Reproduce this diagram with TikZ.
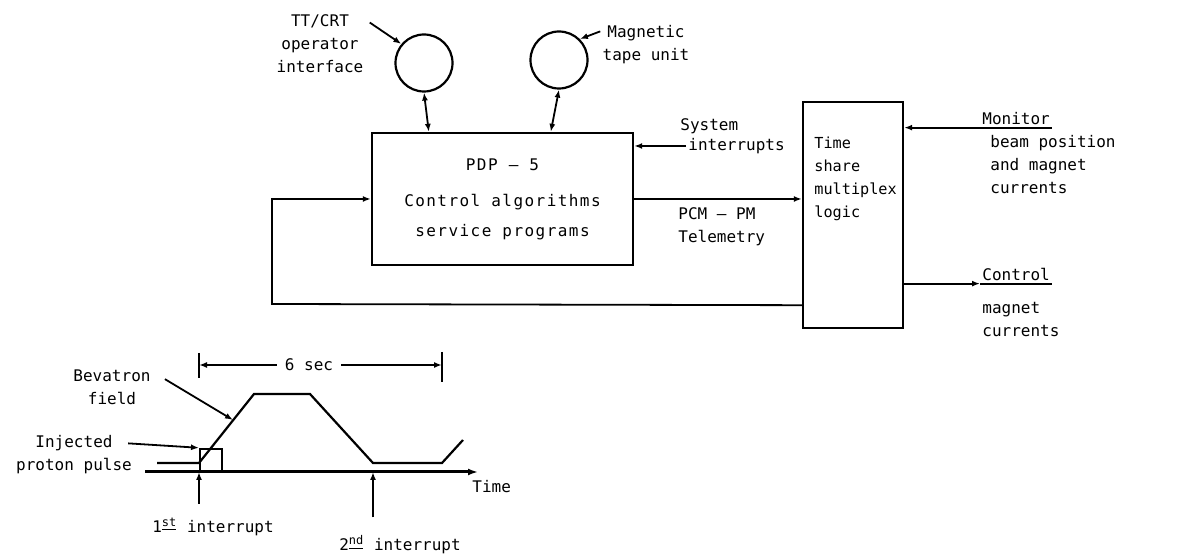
\documentclass[tikz,border=0pt]{standalone}
\usepackage{fontspec}
\setmainfont{DejaVu Sans Mono}
\newfontfamily\pdpfont[LetterSpace=9]{DejaVu Sans Mono}
\usetikzlibrary{arrows.meta,positioning}

\begin{document}
\begin{tikzpicture}[
  x=0.5pt, y=-0.5pt,
  lbl/.style={inner sep=1pt, font=\fontsize{8}{11.5}\selectfont},
  box/.style={draw, line width=1.2pt, inner sep=0pt},
  disk/.style={draw, circle, line width=1.1pt, minimum size=28.5pt, inner sep=0pt},
  arr/.style={-{Latex[length=4pt,width=3pt]}, line width=0.9pt},
  dbl/.style={{Latex[length=4pt,width=3pt]}-{Latex[length=4pt,width=3pt]}, line width=0.9pt},
  field/.style={line width=1.1pt}
]
\useasboundingbox (0,0) rectangle (1190,560);

\node[box, minimum width=130.5pt, minimum height=66pt, align=center,
      font=\pdpfont\fontsize{8}{15}\selectfont] (pdp) at (502.5,199)
  {PDP – 5\\[3pt]Control algorithms\\service programs};
\node[box, minimum width=50pt, minimum height=113pt] (tsm) at (853,215) {};
\node[lbl, align=left, anchor=north west, inner sep=0pt, font=\fontsize{7.6}{11.5}\selectfont]
  (tsmtxt) at (814,137) {Time\\share\\multiplex\\logic};

\node[disk] (ttcrt) at (424,63) {};
\node[disk] (tape) at (559,60) {};
\node[lbl, align=center] (ttlbl) at (320,44) {TT/CRT\\operator\\interface};
\node[lbl, align=center] (tapelbl) at (646,45) {Magnetic\\tape unit};
\draw[arr] ([shift={(2pt,-5pt)}]ttlbl.north east) -- (ttcrt.140);
\draw[arr] ([yshift=-4pt]tapelbl.north west) -- (tape.45);
\draw[dbl] (ttcrt.south) -- ([xshift=29pt]pdp.north west);
\draw[dbl] (tape.south) -- ([xshift=90pt]pdp.north west);

\node[lbl, anchor=west] (sysint) at (686,146) {interrupts};
\node[lbl, anchor=south west] (sys) at ([xshift=-4pt]sysint.north west) {System};
\draw[arr] (sysint.west) -- (sysint.west -| pdp.east);

\draw[arr] (pdp.east) -- (pdp.east -| tsm.west);
\node[lbl, align=left, anchor=north west] (pcm) at (676,205) {PCM – PM\\Telemetry};

\node[lbl, anchor=base west] (mon) at (980,125) {Monitor};
\draw[line width=0.9pt] (mon.south west) -- (mon.south east);
\draw[arr] (mon.south west) -- (mon.south west -| tsm.east);
\node[lbl, align=left, anchor=north west] (monsub) at (988,133) {beam position\\and magnet\\currents};

\node[lbl, anchor=base west] (ctl) at (980,281) {Control};
\draw[line width=0.9pt] (ctl.south west) -- (ctl.south east);
\draw[arr] (ctl.south west -| tsm.east) -- (ctl.south west);
\node[lbl, align=left, anchor=north west] (ctlsub) at (980,300) {magnet\\currents};

\coordinate (fbk) at (272,304);
\draw[arr] ([yshift=12pt]tsm.south west) -- (fbk) |- (pdp.west);

\coordinate (ax0) at (145,472);
\coordinate (ax1) at (478,472);
\draw[-{Latex[length=5pt,width=3.5pt]}, line width=1.5pt] (ax0) -- (ax1);
\node[lbl, anchor=north west] (timelbl) at (470,478) {Time};
\node[draw, field, minimum size=11pt, inner sep=0pt, anchor=south west] (pulse) at (199,472) {};
\draw[field] (157,463) -- (199,463) -- (254,394) -- (310,394) -- (373,463) coordinate (low1)
  -- (442,463) coordinate (low2) -- (463,440);

\node[lbl, align=center] (bevlbl) at (112,387) {Bevatron\\field};
\coordinate (ramp) at (233,420);
\draw[arr] ([shift={(6pt,-6pt)}]bevlbl.north east) -- (ramp);
\node[lbl, align=center] (injlbl) at (74,455) {Injected\\proton pulse};
\draw[arr] ([shift={(-3pt,-5pt)}]injlbl.north east) -- (pulse.north west);

\node[lbl, inner xsep=4pt] (six) at (309,365) {6 sec};
\coordinate (tk1) at (199,365);
\coordinate (tk2) at (442,365);
\draw[line width=0.9pt] (tk1) ++(0,-12) -- ++(0,25);
\draw[line width=0.9pt] (tk2) ++(0,-13) -- ++(0,30);
\draw[arr] (six.west) -- (tk1);
\draw[arr] (six.east) -- (tk2);

\node[lbl] (int1) at (213,527) {1\textsuperscript{\underline{st}} interrupt};
\draw[arr] ([yshift=6pt]int1.north -| pulse.west) -- (pulse.south west);
\node[lbl] (int2) at (400,545) {2\textsuperscript{\underline{nd}} interrupt};
\draw[arr] ([yshift=8pt]int2.north -| low1) -- (low1 |- ax0);
\end{tikzpicture}
\end{document}
